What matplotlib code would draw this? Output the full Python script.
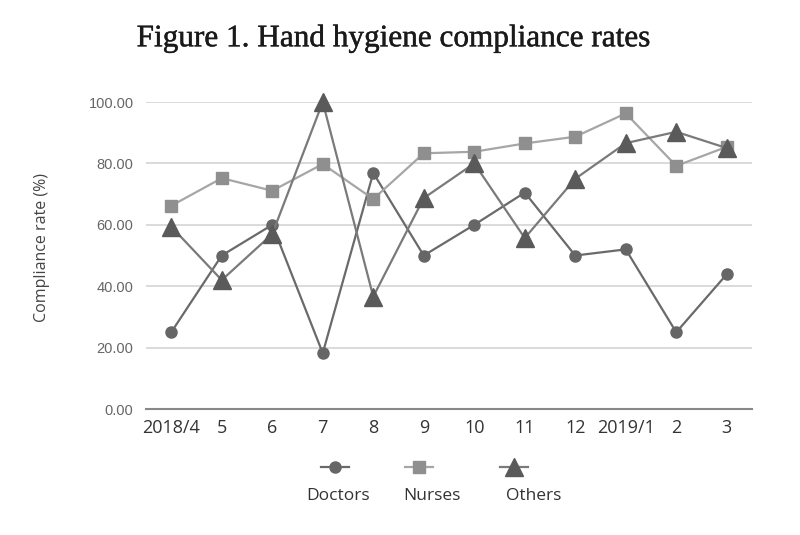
import matplotlib
matplotlib.use("Agg")
import matplotlib.pyplot as plt
import matplotlib.patheffects as pe
from matplotlib.lines import Line2D

# data ---------------------------------------------------------------------
months = ["2018/4", "5", "6", "7", "8", "9", "10", "11", "12", "2019/1", "2", "3"]
doctors = [25.0, 50.0, 60.0, 18.2, 76.9, 50.0, 60.0, 70.5, 50.0, 52.0, 25.0, 43.9]
nurses = [66.2, 75.2, 71.1, 79.8, 68.4, 83.3, 83.8, 86.5, 88.7, 96.3, 79.2, 85.4]
others = [59.4, 42.0, 57.0, 100.0, 36.6, 68.7, 80.0, 55.7, 75.0, 86.6, 90.3, 85.0]
yticks = [0, 20, 40, 60, 80, 100]

plt.rcParams["font.family"] = ["Open Sans", "DejaVu Sans"]

fig = plt.figure(figsize=(8, 5.35), dpi=100)
ax = fig.add_axes([0.1825, 0.2355, 0.7575, 0.5738])

x = range(len(months))
styles = [
    ("Doctors", doctors, dict(color="#6a6a6a", marker="o", ms=8, mfc="#666666", mec="#666666")),
    ("Nurses", nurses, dict(color="#a6a6a6", marker="s", ms=8, mfc="#8f8f8f", mec="#8f8f8f")),
    ("Others", others, dict(color="#7a7a7a", marker="^", ms=13, mfc="#5a5a5a", mec="#5a5a5a")),
]
for name, vals, st in styles:
    ax.plot(x, vals, lw=1.6, clip_on=False, zorder=3, **st)

ax.set_xlim(-0.5, len(months) - 0.5)
ax.set_ylim(0, 100)
ax.set_yticks(yticks)
ax.set_yticklabels([f"{v:.2f}" for v in yticks], fontsize=10.5, color="#666666",
                   family="Liberation Sans")
ax.set_xticks(list(x))
ax.set_xticklabels(months, fontsize=13, color="#333333")
ax.tick_params(axis="y", length=0, pad=9)
ax.tick_params(axis="x", length=0, pad=7)
ax.grid(axis="y", color="#d4d4d4", lw=1.2)
ax.set_axisbelow(True)
for s in ["top", "right", "left"]:
    ax.spines[s].set_visible(False)
ax.spines["bottom"].set_color("#888888")
ax.spines["bottom"].set_linewidth(1.5)

fig.text(0.0525, 0.538, "Compliance rate (%)", rotation=90, ha="center", va="center",
         fontsize=11.5, color="#444444")

fig.text(0.4925, 0.928, "Figure 1. Hand hygiene compliance rates", ha="center", va="center",
         fontsize=22.5, family="Liberation Serif", color="#1a1a1a",
         path_effects=[pe.withStroke(linewidth=0.3, foreground="#1a1a1a")])

# legend: marker on a short line, label underneath
leg_x = [0.4188, 0.5238, 0.6425]
lab_x = [0.4225, 0.54, 0.6675]
for (name, vals, st), mx, lx in zip(styles, leg_x, lab_x):
    fig.add_artist(Line2D([mx - 0.018, mx + 0.018], [0.127, 0.127], transform=fig.transFigure,
                          color=st["color"], lw=1.6))
    fig.add_artist(Line2D([mx], [0.127], transform=fig.transFigure, lw=0,
                          marker=st["marker"], ms=st["ms"], mfc=st["mfc"], mec=st["mec"]))
    fig.text(lx, 0.073, name, ha="center", va="center", fontsize=12.5, color="#333333")

fig.savefig("out.png", dpi=100)
